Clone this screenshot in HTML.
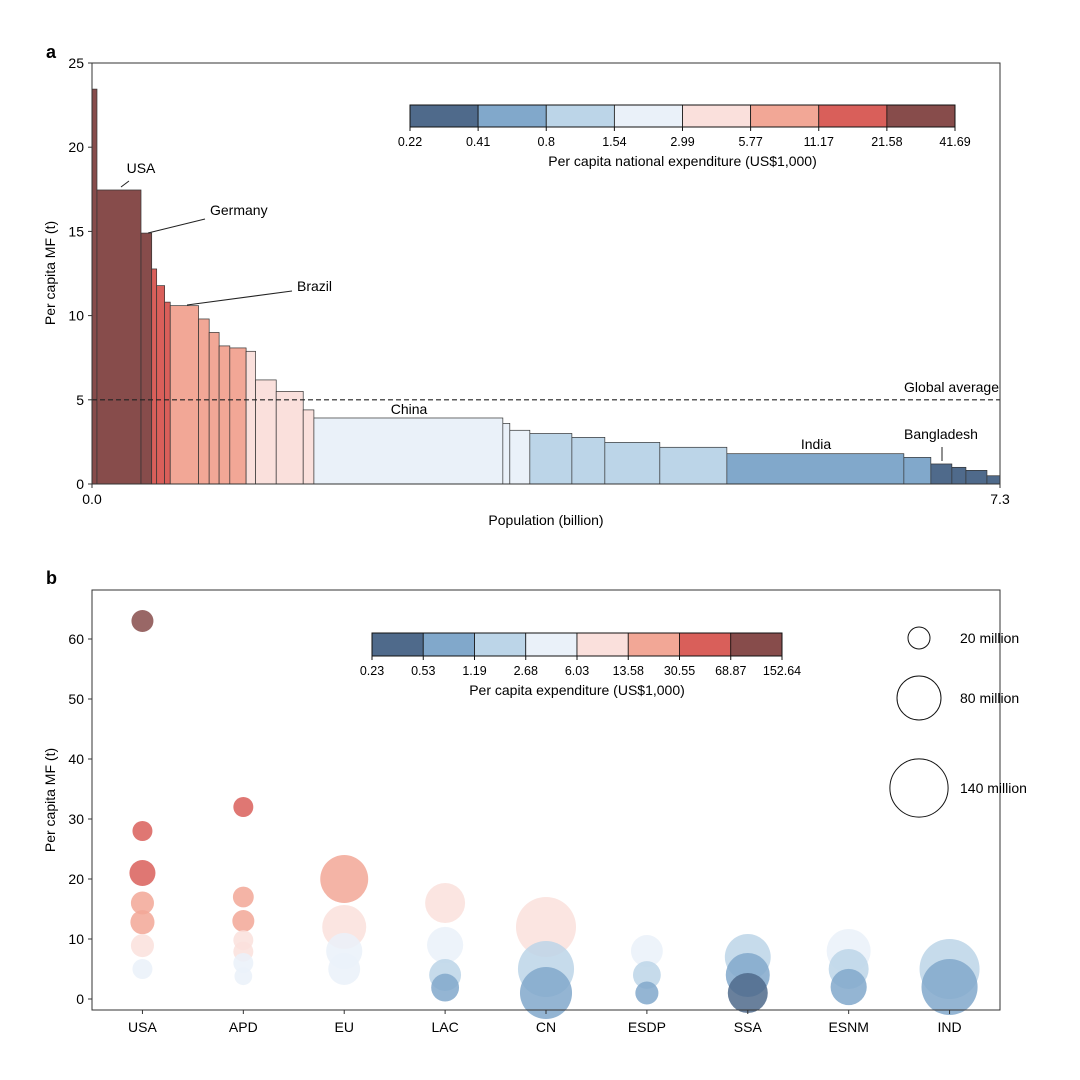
<!DOCTYPE html>
<html><head><meta charset="utf-8">
<style>
html,body{margin:0;padding:0;background:#fff;}
svg{display:block;font-family:"Liberation Sans",Arial,sans-serif;}
</style></head>
<body>
<svg id="chart" width="1080" height="1080" viewBox="0 0 1080 1080">
  <text x="46" y="58" font-size="18" font-weight="bold">a</text>
  <text x="46" y="584" font-size="18" font-weight="bold">b</text>
  <g id="pa"></g>
  <g id="pb"></g>
</svg>
<script>
// ---------- shared colors ----------
const binColors = ["#4f6a8b","#81a8cb","#bcd5e8","#eaf1f9","#fae0dc","#f2a796","#d95f5a","#874c4b"];

// ---------- panel a data ----------
const popA = [0.04,0.354,0.086,0.04,0.064,0.045,0.228,0.085,0.08,0.086,0.131,0.076,0.166,0.217,0.086,1.519,0.056,0.161,0.338,0.265,0.442,0.539,1.423,0.217,0.169,0.113,0.169,0.105];
const mfA = [23.45,17.46,14.9,12.77,11.78,10.8,10.59,9.8,9.0,8.2,8.08,7.88,6.18,5.5,4.4,3.92,3.6,3.19,3.0,2.77,2.47,2.18,1.8,1.58,1.19,0.99,0.81,0.49];
const binA = [7,7,7,6,6,6,5,5,5,5,5,4,4,4,4,3,3,3,2,2,2,2,1,1,0,0,0,0];
const yTicksA = [0,5,10,15,20,25];
const cbTicksA = ["0.22","0.41","0.8","1.54","2.99","5.77","11.17","21.58","41.69"];
const globalAvg = 5;

// ---------- panel b data ----------
const catsB = ["USA","APD","EU","LAC","CN","ESDP","SSA","ESNM","IND"];
const bubCat = [0,0,0,0,0,0,0, 1,1,1,1,1,1,1, 2,2,2,2, 3,3,3,3, 4,4,4, 5,5,5, 6,6,6, 7,7,7, 8,8];
const bubMF  = [63,28,21,16,12.8,8.9,5, 32,17,13,9.8,7.9,6,3.8, 20,12,8,5, 16,9,4,1.9, 12,5,1, 8,4,1, 7,4,1, 8,5,2, 5,2];
const bubPop = [20,16.5,28,22,24,22,16.5, 16.5,18,20,16.5,16.5,16.5,13, 95,80,54,42, 66,54,42,32, 149,130,112, 42,32,22, 87,80,66, 80,66,54, 149,130];
const bubBin = [7,6,6,5,5,4,3, 6,5,5,4,4,3,3, 5,4,3,3, 4,3,2,1, 4,2,1, 3,2,1, 2,1,0, 3,2,1, 2,1];
const yTicksB = [0,10,20,30,40,50,60];
const cbTicksB = ["0.23","0.53","1.19","2.68","6.03","13.58","30.55","68.87","152.64"];
const sizeLegend = [20,80,140];

const NS="http://www.w3.org/2000/svg";
function mk(parent,tag,attrs,text){const e=document.createElementNS(NS,tag);for(const k in attrs)e.setAttribute(k,attrs[k]);if(text!==undefined)e.textContent=text;parent.appendChild(e);return e;}

// ================= PANEL A =================
const pa=document.getElementById('pa');
const A={x0:92,x1:1000,y0:484,y1:63,xmax:7.3,ymax:25};
const ax=v=>A.x0+v/A.xmax*(A.x1-A.x0);
const ay=v=>A.y0-v/A.ymax*(A.y0-A.y1);
let cum=0;
for(let i=0;i<popA.length;i++){
  const x0=ax(cum),x1=ax(cum+popA[i]);cum+=popA[i];
  const r=mk(pa,'rect',{x:x0,y:ay(mfA[i]),width:x1-x0,height:A.y0-ay(mfA[i]),fill:binColors[binA[i]],stroke:'#333','stroke-width':0.7});
  
  
}
const ga=mk(pa,'line',{x1:A.x0,x2:A.x1,y1:ay(globalAvg),y2:ay(globalAvg),stroke:'#222','stroke-width':1.1,'stroke-dasharray':'5,3'});

mk(pa,'rect',{x:A.x0,y:A.y1,width:A.x1-A.x0,height:A.y0-A.y1,fill:'none',stroke:'#333','stroke-width':1,});
yTicksA.forEach(t=>{
  mk(pa,'line',{x1:A.x0-4,x2:A.x0,y1:ay(t),y2:ay(t),stroke:'#333'});
  const tx=mk(pa,'text',{x:A.x0-8,y:ay(t)+5,'font-size':14,'text-anchor':'end'},String(t));
  
});
[[0,"0.0"],[7.3,"7.3"]].forEach(([v,l])=>{
  mk(pa,'line',{x1:ax(v),x2:ax(v),y1:A.y0,y2:A.y0+4,stroke:'#333'});
  const tx=mk(pa,'text',{x:ax(v),y:A.y0+20,'font-size':14,'text-anchor':'middle'},l);
  
});
mk(pa,'text',{x:546,y:525,'font-size':14,'text-anchor':'middle',},'Population (billion)');
mk(pa,'text',{x:0,y:0,'font-size':14,'text-anchor':'middle',transform:'translate(55,273) rotate(-90)',},'Per capita MF (t)');
// annotations
mk(pa,'text',{x:141,y:173,'font-size':14,'text-anchor':'middle',},'USA');
mk(pa,'line',{x1:121,y1:187,x2:129,y2:181,stroke:'#222'});
mk(pa,'text',{x:210,y:215,'font-size':14,},'Germany');
mk(pa,'line',{x1:148,y1:233,x2:205,y2:219,stroke:'#222'});
mk(pa,'text',{x:297,y:291,'font-size':14,},'Brazil');
mk(pa,'line',{x1:187,y1:305,x2:292,y2:291,stroke:'#222'});
mk(pa,'text',{x:999,y:392,'font-size':14,'text-anchor':'end',},'Global average');
mk(pa,'text',{x:409,y:414,'font-size':14,'text-anchor':'middle',},'China');
mk(pa,'text',{x:816,y:449,'font-size':14,'text-anchor':'middle',},'India');
mk(pa,'text',{x:941,y:439,'font-size':14,'text-anchor':'middle',},'Bangladesh');
mk(pa,'line',{x1:942,y1:447,x2:942,y2:461,stroke:'#222'});
// colorbar a
function colorbar(g,x0,x1,y0,h,ticks,title,name){
  const w=(x1-x0)/8;
  for(let i=0;i<8;i++){
    const r=mk(g,'rect',{x:x0+i*w,y:y0,width:w,height:h,fill:binColors[i],stroke:'#111','stroke-width':0.8});
    
  }
  mk(g,'rect',{x:x0,y:y0,width:x1-x0,height:h,fill:'none',stroke:'#111','stroke-width':1});
  ticks.forEach((t,i)=>{
    mk(g,'line',{x1:x0+i*w,x2:x0+i*w,y1:y0+h,y2:y0+h+4,stroke:'#111'});
    const tx=mk(g,'text',{x:x0+i*w,y:y0+h+19,'font-size':12.5,'text-anchor':'middle'},t);
    
  });
  mk(g,'text',{x:(x0+x1)/2,y:y0+h+39,'font-size':14,'text-anchor':'middle',},title);
}
colorbar(pa,410,955,105,22,cbTicksA,'Per capita national expenditure (US$1,000)','colorbar-a');

// ================= PANEL B =================
const pb=document.getElementById('pb');
const B={x0:92,x1:1000,y0:1010,y1:590};
const bx=i=>B.x0+(i+0.5)/catsB.length*(B.x1-B.x0);
const by=v=>999-v*6;
const rad=p=>2.46*Math.sqrt(p);
for(let i=0;i<bubMF.length;i++){
  const c=mk(pb,'circle',{cx:bx(bubCat[i]),cy:by(bubMF[i]),r:rad(bubPop[i]),fill:binColors[bubBin[i]],'fill-opacity':0.85});
  
  
}
mk(pb,'rect',{x:B.x0,y:B.y1,width:B.x1-B.x0,height:B.y0-B.y1,fill:'none',stroke:'#333','stroke-width':1,});
yTicksB.forEach(t=>{
  mk(pb,'line',{x1:B.x0-4,x2:B.x0,y1:by(t),y2:by(t),stroke:'#333'});
  const tx=mk(pb,'text',{x:B.x0-8,y:by(t)+5,'font-size':14,'text-anchor':'end'},String(t));
  
});
catsB.forEach((c,i)=>{
  mk(pb,'line',{x1:bx(i),x2:bx(i),y1:B.y0,y2:B.y0+4,stroke:'#333'});
  const tx=mk(pb,'text',{x:bx(i),y:B.y0+22,'font-size':14,'text-anchor':'middle'},c);
  
});
mk(pb,'text',{x:0,y:0,'font-size':14,'text-anchor':'middle',transform:'translate(55,800) rotate(-90)',},'Per capita MF (t)');
colorbar(pb,372,782,633,23,cbTicksB,'Per capita expenditure (US$1,000)','colorbar-b');
// size legend
const legY=[638,698,788];
sizeLegend.forEach((p,i)=>{
  const c=mk(pb,'circle',{cx:919,cy:legY[i],r:rad(p),fill:'none',stroke:'#111','stroke-width':1});
  
  const t=mk(pb,'text',{x:960,y:legY[i]+5,'font-size':14},p+' million');
  
});
</script>
</body></html>
